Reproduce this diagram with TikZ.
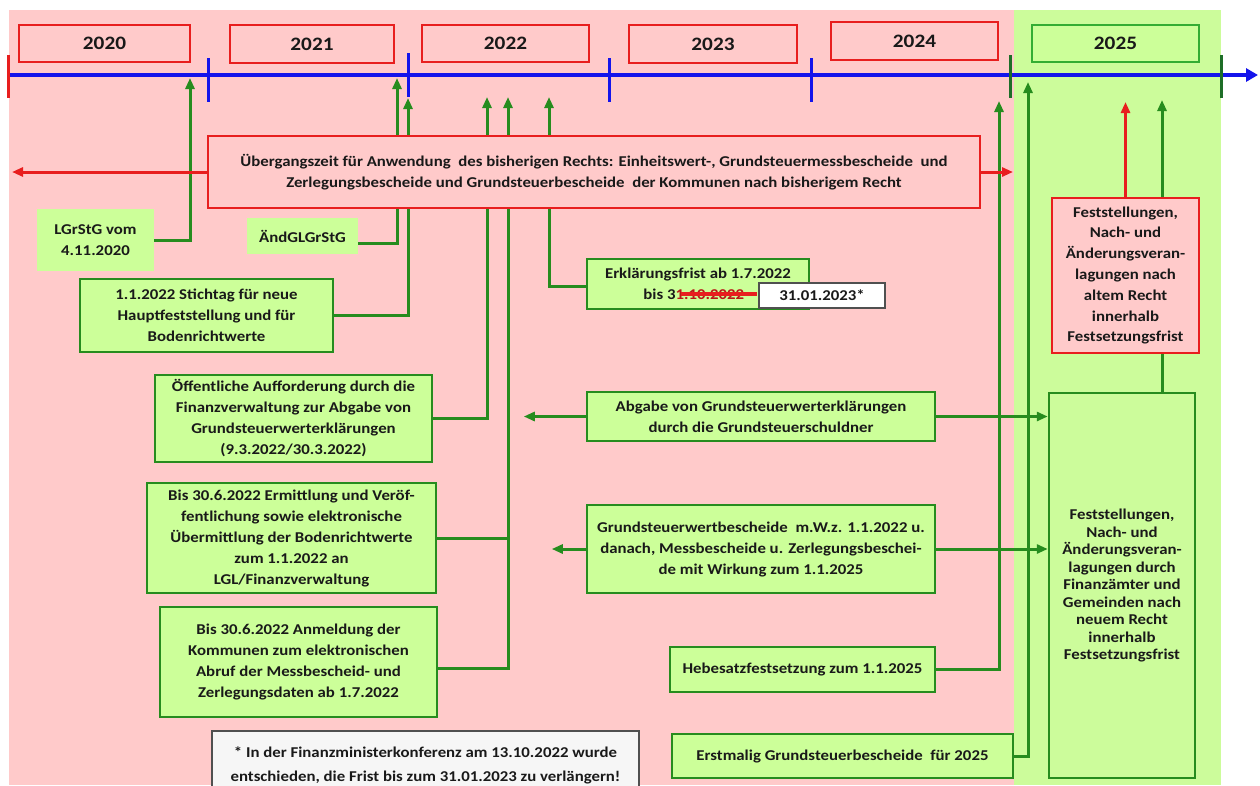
\documentclass[tikz,border=0pt]{standalone}
\usepackage{fontspec}
\newfontfamily\cb[FakeStretch=1.12]{Carlito}
\usetikzlibrary{arrows.meta}
\definecolor{bgpink}{RGB}{255,202,202}
\definecolor{bggreen}{RGB}{204,252,155}
\definecolor{boxgreen}{RGB}{204,255,153}
\definecolor{gline}{RGB}{38,140,30}
\definecolor{gtick}{RGB}{30,110,40}
\definecolor{rline}{RGB}{232,30,30}
\definecolor{bline}{RGB}{20,20,235}
\definecolor{txt}{RGB}{25,25,25}
\definecolor{footfill}{RGB}{246,246,246}
\definecolor{footdraw}{RGB}{80,80,80}
\tikzset{
  base/.style={inner sep=0pt, align=center, text=txt, font=\cb\bfseries\fontsize{15}{21}\selectfont},
  yearbox/.style={base, draw=rline, line width=1.3pt, fill=bgpink, font=\cb\bfseries\fontsize{19}{22}\selectfont},
  yeargreen/.style={yearbox, draw=green!60!black!80, fill=boxgreen},
  gbox/.style={base, draw=gline, line width=2.5pt, fill=boxgreen},
  gplain/.style={base, fill=boxgreen},
  rbox/.style={base, draw=rline, line width=2.5pt, fill=bgpink},
  gconn/.style={draw=gline, line width=3pt},
  garrow/.style={gconn, -{Triangle[length=11pt,width=9pt]}},
  rarrow/.style={draw=rline, line width=3pt, -{Triangle[length=11pt,width=9pt]}},
}
\begin{document}
\begin{tikzpicture}[x=1pt,y=-1pt]
\useasboundingbox (0,0) rectangle (1260,785);
\clip (0,0) rectangle (1260,785);
% backgrounds
\fill[bgpink] (9,10) rectangle (1014,785);
\fill[bggreen] (1014,10) rectangle (1221,785);
% year boxes
\node[yearbox, minimum width=171pt, minimum height=37pt] (y2020) at (104.5,43.5) {2020};
\node[yearbox, minimum width=164pt, minimum height=38pt] (y2021) at (312,44) {2021};
\node[yearbox, minimum width=167pt, minimum height=37pt] (y2022) at (505.5,43.5) {2022};
\node[yearbox, minimum width=168pt, minimum height=38pt] (y2023) at (713,44) {2023};
\node[yearbox, minimum width=167pt, minimum height=38pt] (y2024) at (914.5,41) {2024};
\node[yeargreen, minimum width=167pt, minimum height=37pt] (y2025) at (1115.5,43.5) {2025};
% timeline
\coordinate (tl0) at (8,75);
\coordinate (tl1) at (1258,75);
\draw[bline, line width=4pt, -{Triangle[length=12pt,width=13pt]}] (tl0) -- (tl1);
\draw[rline, line width=3pt] (8,55) -- (8,98);
\draw[bline, line width=3pt] (208,58) -- (208,102);
\draw[bline, line width=3pt] (408,53) -- (408,97);
\draw[bline, line width=3pt] (609,58) -- (609,102);
\draw[bline, line width=3pt] (811,58) -- (811,102);
\draw[gtick, line width=3pt] (1010,55) -- (1010,98);
\draw[gtick, line width=3pt] (1221,55) -- (1221,98);
% target coordinates on the timeline
\coordinate (a190) at (190,78);
\coordinate (a397) at (397,78);
\coordinate (a408) at (408,98);
\coordinate (a487) at (487,97);
\coordinate (a508) at (508,97);
\coordinate (a549) at (549,97);
\coordinate (a999) at (999,101);
\coordinate (a1028) at (1028,82);
\coordinate (a1126) at (1125.5,102);
\coordinate (a1162) at (1162,100);
% left boxes
\node[gplain, minimum width=117pt, minimum height=62pt] (lgr) at (95.5,240) {LGrStG vom\\4.11.2020};
\node[gplain, minimum width=111pt, minimum height=36pt] (aend) at (302.5,236) {ÄndGLGrStG};
\node[gbox, minimum width=253pt, minimum height=73pt] (stich) at (206.5,315.5) {1.1.2022 Stichtag für neue\\Hauptfeststellung und für\\Bodenrichtwerte};
\node[gbox, minimum width=277pt, minimum height=87pt] (oeff) at (293.5,418.5) {Öffentliche Aufforderung durch die\\Finanzverwaltung zur Abgabe von\\Grundsteuerwerterklärungen\\(9.3.2022/30.3.2022)};
\node[gbox, minimum width=289pt, minimum height=110pt] (ermit) at (291.5,538) {Bis 30.6.2022 Ermittlung und Veröf-\\fentlichung sowie elektronische\\Übermittlung der Bodenrichtwerte\\zum 1.1.2022 an\\LGL/Finanzverwaltung};
\node[gbox, minimum width=277pt, minimum height=110pt] (anm) at (298.5,662) {Bis 30.6.2022 Anmeldung der\\Kommunen zum elektronischen\\Abruf der Messbescheid- und\\Zerlegungsdaten ab 1.7.2022};
% middle boxes
\node[gbox, minimum width=222pt, minimum height=50pt] (erkl) at (698,284) {Erklärungsfrist ab 1.7.2022\\bis 3\textcolor{rline!80!black}{1.10.2022}\phantom{*}};
\node[gbox, minimum width=348pt, minimum height=49pt] (abg) at (761,416.5) {Abgabe von Grundsteuerwerterklärungen\\durch die Grundsteuerschuldner};
\node[gbox, minimum width=348pt, minimum height=88pt] (gwb) at (761,549) {Grundsteuerwertbescheide \ m.W.z. 1.1.2022 u.\\danach, Messbescheide u. Zerlegungsbeschei-\\de mit Wirkung zum 1.1.2025};
\node[gbox, minimum width=265pt, minimum height=45pt] (hebe) at (802.5,669.5) {Hebesatzfestsetzung zum 1.1.2025};
\node[gbox, minimum width=341pt, minimum height=44pt] (erst) at (842.5,756) {Erstmalig Grundsteuerbescheide \ für 2025};
% right boxes
\node[gbox, fill=bggreen, minimum width=146pt, minimum height=385pt, font=\cb\bfseries\fontsize{15}{17.5}\selectfont] (big) at (1122,585.5) {Feststellungen,\\Nach- und\\Änderungsveran-\\lagungen durch\\Finanzämter und\\Gemeinden nach\\neuem Recht\\innerhalb\\Festsetzungsfrist};
% green connectors
\draw[garrow] (lgr.east) -| (a190);
\draw[garrow] ([yshift=-7pt]aend.east) -| (a397);
\draw[garrow] (stich.east) -| (a408);
\draw[garrow] (oeff.east) -| (a487);
\draw[gconn] (ermit.east) -- (ermit.east -| a508);
\draw[garrow] ([yshift=-6pt]anm.east) -| (a508);
\draw[garrow] ([yshift=-2pt]erkl.west) -| (a549);
\draw[garrow] (abg.west) -- ++(-62,0) coordinate (abgL);
\draw[garrow] (abg.east) -- (big.west |- abg.east);
\draw[garrow] (gwb.west) -- ++(-34,0) coordinate (gwbL);
\draw[garrow] (gwb.east) -- (big.west |- gwb.east);
\draw[garrow] (hebe.east) -| (a999);
\draw[garrow] (erst.east) -| (a1028);
\draw[garrow] ([xshift=40pt]big.north) -- (a1162);
% main red box
\node[rbox, minimum width=772pt, minimum height=72pt] (ueb) at (594,172) {Übergangszeit für Anwendung \ des bisherigen Rechts: Einheitswert-, Grundsteuermessbescheide \ und\\Zerlegungsbescheide und Grundsteuerbescheide \ der Kommunen nach bisherigem Recht};
\coordinate (uebL) at (12,172);
\coordinate (uebR) at (1013,172);
\draw[rarrow] (ueb.west) -- (uebL);
\draw[rarrow] (ueb.east) -- (uebR);
% old-law red box
\node[rbox, minimum width=147pt, minimum height=155pt, font=\cb\bfseries\fontsize{15}{20.8}\selectfont] (old) at (1125.5,275.5) {Feststellungen,\\Nach- und\\Änderungsveran-\\lagungen nach\\altem Recht\\innerhalb\\Festsetzungsfrist};
\draw[rarrow] (old.north) -- (a1126);
% strike-through and new date
\draw[rline, line width=4pt] (681,294) -- (757,294);
\node[base, draw=footdraw, line width=1.3pt, fill=white, minimum width=126pt, minimum height=25pt] (date) at (822,295.5) {31.01.2023*};
% footnote
\node[base, draw=footdraw, line width=1.5pt, fill=footfill, minimum width=427pt, minimum height=69pt, font=\cb\bfseries\fontsize{15}{24}\selectfont] (foot) at (425.5,765.5) {* In der Finanzministerkonferenz am 13.10.2022 wurde\\entschieden, die Frist bis zum 31.01.2023 zu verlängern!};
\end{tikzpicture}
\end{document}
